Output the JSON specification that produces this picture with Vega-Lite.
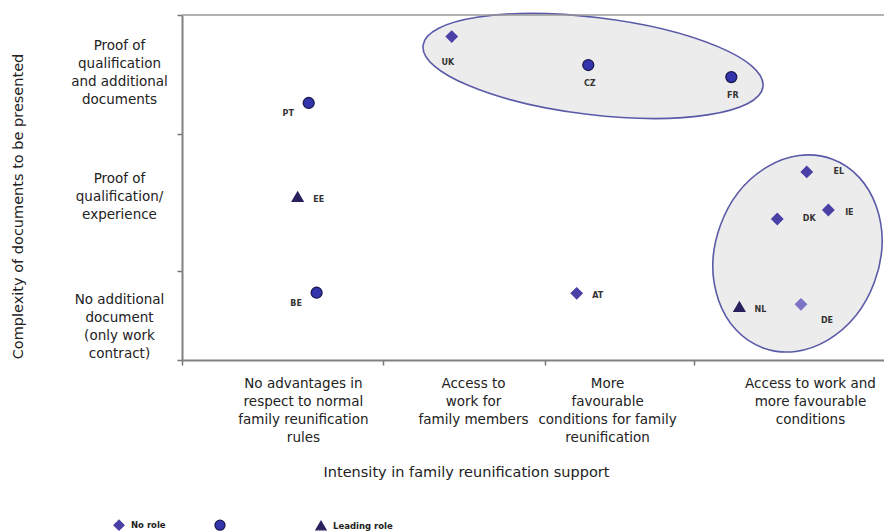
{
  "$schema": "https://vega.github.io/schema/vega-lite/v6.json",
  "width": 702,
  "height": 345,
  "autosize": {"type": "none"},
  "padding": {"left": 182, "top": 15, "right": 0, "bottom": 172},
  "background": "white",
  "config": {"view": {"stroke": null}},
  "datasets": {
    "points": [
      {"country": "UK", "intensity": 1.537, "complexity": 3.75, "role": "No role"},
      {"country": "CZ", "intensity": 2.315, "complexity": 3.42, "role": "Supporting role"},
      {"country": "FR", "intensity": 3.13, "complexity": 3.28, "role": "Supporting role"},
      {"country": "PT", "intensity": 0.722, "complexity": 2.98, "role": "Supporting role"},
      {"country": "EE", "intensity": 0.659, "complexity": 1.893, "role": "Leading role"},
      {"country": "BE", "intensity": 0.767, "complexity": 0.78, "role": "Supporting role"},
      {"country": "AT", "intensity": 2.249, "complexity": 0.773, "role": "No role"},
      {"country": "EL", "intensity": 3.56, "complexity": 2.18, "role": "No role"},
      {"country": "DK", "intensity": 3.392, "complexity": 1.635, "role": "No role"},
      {"country": "IE", "intensity": 3.683, "complexity": 1.739, "role": "No role"},
      {"country": "NL", "intensity": 3.176, "complexity": 0.618, "role": "Leading role"},
      {"country": "DE", "intensity": 3.527, "complexity": 0.646, "role": "No role"}
    ],
    "clusters": [
      {"cluster": "top", "intensity": 2.342, "complexity": 3.409},
      {"cluster": "right", "intensity": 3.507, "complexity": 1.235}
    ]
  },
  "layer": [
    {
      "data": {"name": "clusters"},
      "transform": [{"filter": "datum.cluster === 'top'"}],
      "mark": {
        "type": "point",
        "shape": "M-1,0C-1,-0.1569,-0.5523,-0.284,0,-0.284C0.5523,-0.284,1,-0.1569,1,0C1,0.1569,0.5523,0.284,0,0.284C-0.5523,0.284,-1,0.1569,-1,0Z",
        "size": 117238,
        "angle": 6.9,
        "filled": true,
        "fill": "#ececec",
        "stroke": "#5a5aa8",
        "strokeWidth": 1.6,
        "opacity": 1
      },
      "encoding": {
        "x": {
          "field": "intensity",
          "type": "quantitative",
          "scale": {"domain": [0, 4], "nice": false, "zero": false},
          "axis": {
            "title": "Intensity in family reunification support",
            "grid": false,
            "values": [0, 1.145, 2.068, 2.917, 0.689, 1.658, 2.422, 3.578],
            "labelExpr": "datum.value == 0.689 ? ['No advantages in','respect to normal','family reunification','rules'] : datum.value == 1.658 ? ['Access to','work for','family members'] : datum.value == 2.422 ? ['More','favourable','conditions for family','reunification'] : datum.value == 3.578 ? ['Access to work and','more favourable','conditions'] : ''",
            "tickOpacity": {"condition": {"test": "datum.value == 0 || datum.value == 1.145 || datum.value == 2.068 || datum.value == 2.917", "value": 1}, "value": 0},
            "tickSize": 5,
            "tickColor": "#777777",
            "tickWidth": 1.5,
            "domainColor": "#808080",
            "domainWidth": 2,
            "labelFont": "DejaVu Sans",
            "labelFontSize": 13.5,
            "labelColor": "#222222",
            "labelLineHeight": 18,
            "labelAlign": "center",
            "labelBaseline": "top",
            "labelPadding": 11,
            "labelOverlap": false,
            "labelFlush": false,
            "labelBound": false,
            "titleFont": "DejaVu Sans",
            "titleFontSize": 14.5,
            "titleFontWeight": "normal",
            "titleColor": "#222222",
            "titleX": 284,
            "titleY": 112,
            "titleAlign": "center",
            "titleBaseline": "middle"
          }
        },
        "y": {
          "field": "complexity",
          "type": "quantitative",
          "scale": {"domain": [0, 4], "nice": false, "zero": false},
          "axis": {
            "title": "Complexity of documents to be presented",
            "grid": false,
            "values": [0, 1.03, 2.62, 4, 0.696, 2.11, 3.652],
            "labelExpr": "datum.value == 3.652 ? ['Proof of','qualification','and additional','documents'] : datum.value == 2.11 ? ['Proof of','qualification/','experience'] : datum.value == 0.696 ? ['No additional','document','(only work','contract)'] : ''",
            "tickOpacity": {"condition": {"test": "datum.value == 0 || datum.value == 1.03 || datum.value == 2.62 || datum.value == 4", "value": 1}, "value": 0},
            "tickSize": 5,
            "tickColor": "#777777",
            "tickWidth": 1.5,
            "domainColor": "#808080",
            "domainWidth": 2,
            "labelFont": "DejaVu Sans",
            "labelFontSize": 13.5,
            "labelColor": "#222222",
            "labelLineHeight": 18,
            "labelAlign": "center",
            "labelBaseline": "middle",
            "labelPadding": 58,
            "labelOverlap": false,
            "labelFlush": false,
            "labelBound": false,
            "titleFont": "DejaVu Sans",
            "titleFontSize": 14.5,
            "titleFontWeight": "normal",
            "titleColor": "#222222",
            "titleX": -164,
            "titleY": 191,
            "titleAngle": -90,
            "titleAlign": "center",
            "titleBaseline": "middle"
          }
        }
      }
    },
    {
      "data": {"name": "clusters"},
      "transform": [{"filter": "datum.cluster === 'right'"}],
      "mark": {
        "type": "point",
        "shape": "M0,-1C0.4512,-1,0.817,-0.5523,0.817,0C0.817,0.5523,0.4512,1,0,1C-0.4512,1,-0.817,0.5523,-0.817,0C-0.817,-0.5523,-0.4512,-1,0,-1Z",
        "size": 40401,
        "angle": 20,
        "filled": true,
        "fill": "#ececec",
        "stroke": "#5a5aa8",
        "strokeWidth": 1.6,
        "opacity": 1
      },
      "encoding": {
        "x": {"field": "intensity", "type": "quantitative", "scale": {"domain": [0, 4], "nice": false, "zero": false}},
        "y": {"field": "complexity", "type": "quantitative", "scale": {"domain": [0, 4], "nice": false, "zero": false}}
      }
    },
    {
      "data": {"values": [{}]},
      "mark": {"type": "rule", "color": "#999999", "strokeWidth": 1.5},
      "encoding": {"y": {"datum": 4}}
    },
    {
      "data": {"name": "points"},
      "mark": {"type": "point", "filled": true, "size": 120, "strokeWidth": 1.3, "opacity": 1},
      "encoding": {
        "x": {"field": "intensity", "type": "quantitative", "scale": {"domain": [0, 4], "nice": false, "zero": false}},
        "y": {"field": "complexity", "type": "quantitative", "scale": {"domain": [0, 4], "nice": false, "zero": false}},
        "shape": {
          "field": "role",
          "type": "nominal",
          "scale": {"domain": ["No role", "Supporting role", "Leading role"], "range": ["diamond", "circle", "triangle-up"]},
          "legend": {
            "orient": "none",
            "legendX": -69,
            "legendY": 504,
            "direction": "horizontal",
            "title": null,
            "labelExpr": "datum.label == 'Supporting role' ? '' : datum.label",
            "labelFont": "DejaVu Sans",
            "labelFontSize": 8.5,
            "labelFontWeight": "bold",
            "labelColor": "#222222",
            "symbolSize": 100,
            "columnPadding": 21,
            "gridAlign": "all",
            "padding": 0,
            "labelOffset": 6,
            "symbolStrokeWidth": 1.3
          }
        },
        "fill": {
          "field": "role",
          "type": "nominal",
          "scale": {"domain": ["No role", "Supporting role", "Leading role"], "range": ["#4a40a6", "#3434ad", "#27225e"]},
          "condition": {"test": "datum.country === 'DE'", "value": "#7c74c4"}
        },
        "stroke": {
          "field": "role",
          "type": "nominal",
          "scale": {"domain": ["No role", "Supporting role", "Leading role"], "range": ["#4a40a6", "#1a1a52", "#27225e"]},
          "condition": {"test": "datum.country === 'DE'", "value": "#7c74c4"}
        }
      }
    },
    {
      "data": {"name": "points"},
      "transform": [{"filter": {"field": "country", "oneOf": ["EE", "AT", "IE", "NL"]}}],
      "mark": {"type": "text", "font": "DejaVu Sans", "fontSize": 8, "fontWeight": "bold", "color": "#333333", "align": "center", "baseline": "middle", "dx": 21, "dy": 3},
      "encoding": {
        "x": {"field": "intensity", "type": "quantitative", "scale": {"domain": [0, 4], "nice": false, "zero": false}},
        "y": {"field": "complexity", "type": "quantitative", "scale": {"domain": [0, 4], "nice": false, "zero": false}},
        "text": {"field": "country"}
      }
    },
    {
      "data": {"name": "points"},
      "transform": [{"filter": {"field": "country", "oneOf": ["EL", "DK"]}}],
      "mark": {"type": "text", "font": "DejaVu Sans", "fontSize": 8, "fontWeight": "bold", "color": "#333333", "align": "center", "baseline": "middle", "dx": 32, "dy": 0},
      "encoding": {
        "x": {"field": "intensity", "type": "quantitative", "scale": {"domain": [0, 4], "nice": false, "zero": false}},
        "y": {"field": "complexity", "type": "quantitative", "scale": {"domain": [0, 4], "nice": false, "zero": false}},
        "text": {"field": "country"}
      }
    },
    {
      "data": {"name": "points"},
      "transform": [{"filter": {"field": "country", "oneOf": ["CZ", "FR"]}}],
      "mark": {"type": "text", "font": "DejaVu Sans", "fontSize": 8, "fontWeight": "bold", "color": "#333333", "align": "center", "baseline": "middle", "dx": 1.5, "dy": 18.5},
      "encoding": {
        "x": {"field": "intensity", "type": "quantitative", "scale": {"domain": [0, 4], "nice": false, "zero": false}},
        "y": {"field": "complexity", "type": "quantitative", "scale": {"domain": [0, 4], "nice": false, "zero": false}},
        "text": {"field": "country"}
      }
    },
    {
      "data": {"name": "points"},
      "transform": [{"filter": {"field": "country", "oneOf": ["UK"]}}],
      "mark": {"type": "text", "font": "DejaVu Sans", "fontSize": 8, "fontWeight": "bold", "color": "#333333", "align": "center", "baseline": "middle", "dx": -4, "dy": 26},
      "encoding": {
        "x": {"field": "intensity", "type": "quantitative", "scale": {"domain": [0, 4], "nice": false, "zero": false}},
        "y": {"field": "complexity", "type": "quantitative", "scale": {"domain": [0, 4], "nice": false, "zero": false}},
        "text": {"field": "country"}
      }
    },
    {
      "data": {"name": "points"},
      "transform": [{"filter": {"field": "country", "oneOf": ["PT", "BE"]}}],
      "mark": {"type": "text", "font": "DejaVu Sans", "fontSize": 8, "fontWeight": "bold", "color": "#333333", "align": "center", "baseline": "middle", "dx": -20.5, "dy": 11},
      "encoding": {
        "x": {"field": "intensity", "type": "quantitative", "scale": {"domain": [0, 4], "nice": false, "zero": false}},
        "y": {"field": "complexity", "type": "quantitative", "scale": {"domain": [0, 4], "nice": false, "zero": false}},
        "text": {"field": "country"}
      }
    },
    {
      "data": {"name": "points"},
      "transform": [{"filter": {"field": "country", "oneOf": ["DE"]}}],
      "mark": {"type": "text", "font": "DejaVu Sans", "fontSize": 8, "fontWeight": "bold", "color": "#333333", "align": "center", "baseline": "middle", "dx": 26, "dy": 17},
      "encoding": {
        "x": {"field": "intensity", "type": "quantitative", "scale": {"domain": [0, 4], "nice": false, "zero": false}},
        "y": {"field": "complexity", "type": "quantitative", "scale": {"domain": [0, 4], "nice": false, "zero": false}},
        "text": {"field": "country"}
      }
    }
  ]
}
